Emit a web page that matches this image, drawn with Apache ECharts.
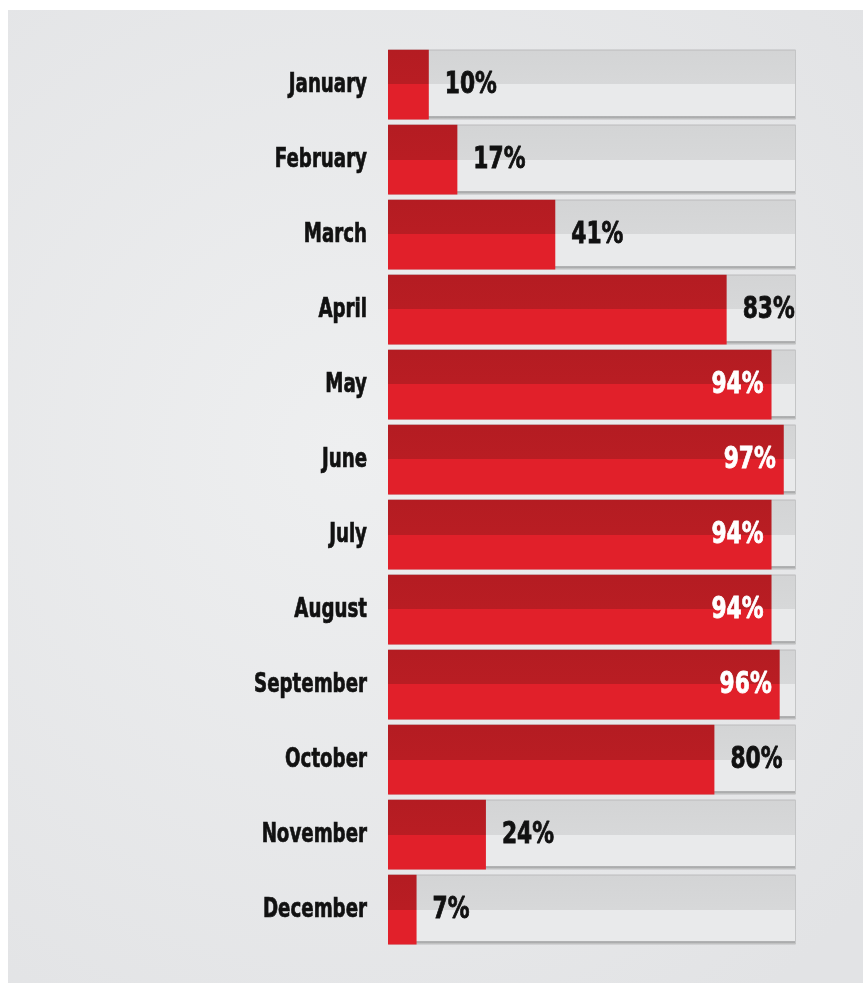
<!DOCTYPE html>
<html>
<head>
<meta charset="utf-8">
<script src="https://cdn.jsdelivr.net/npm/echarts@6/dist/echarts.min.js"></script>
<style>
html,body{margin:0;padding:0;background:#ffffff;}
#chart{width:863px;height:983px;}
</style>
</head>
<body>
<div id="chart"></div>
<script>
const months = ['January','February','March','April','May','June','July','August','September','October','November','December'];
const values = [10,17,41,83,94,97,94,94,96,80,24,7];
const trackMax = 100;

const FONT = "'DejaVu Sans Condensed','Liberation Sans Narrow',sans-serif";
const INSIDE_THRESHOLD = 90;

const chart = echarts.init(document.getElementById('chart'));

const bgRect = {
  type: 'rect',
  z: -10,
  shape: {x: 8, y: 10, width: 855, height: 973},
  style: {
    fill: {
      type: 'radial', x: 0.4, y: 0.45, r: 0.8,
      colorStops: [{offset: 0, color: '#eeeff0'}, {offset: 1, color: '#e2e3e5'}]
    }
  },
  silent: true
};

chart.setOption({
  backgroundColor: '#ffffff',
  animation: false,
  graphic: [bgRect],
  grid: {left: 388, right: 67, top: 47, bottom: 36},
  xAxis: {type: 'value', min: 0, max: trackMax, show: false},
  yAxis: {
    type: 'category',
    data: months,
    inverse: true,
    axisLine: {show: false},
    axisTick: {show: false},
    axisLabel: {show: false}
  },
  series: [
    {
      type: 'bar',
      data: months.map(() => trackMax),
      barCategoryGap: '7%',
      barGap: '-100%',
      silent: true,
      z: 1,
      itemStyle: {
        color: {
          type: 'linear', x: 0, y: 0, x2: 0, y2: 1,
          colorStops: [
            {offset: 0, color: '#d3d4d5'},
            {offset: 0.5, color: '#d7d8d9'},
            {offset: 0.5, color: '#e9eaeb'},
            {offset: 0.95, color: '#e9eaeb'},
            {offset: 0.95, color: '#b3b4b5'},
            {offset: 1, color: '#a3a4a5'}
          ]
        },
        borderColor: '#c4c5c6',
        borderWidth: 1
      }
    },
    {
      type: 'bar',
      data: values,
      barCategoryGap: '7%',
      barGap: '-100%',
      z: 2,
      itemStyle: {
        color: {
          type: 'linear', x: 0, y: 0, x2: 0, y2: 1,
          colorStops: [
            {offset: 0, color: '#b41c22'},
            {offset: 0.5, color: '#b91d23'},
            {offset: 0.5, color: '#e1202a'},
            {offset: 1, color: '#e1202a'}
          ]
        }
      }
    }
  ]
});

// Condensed text labels, positioned through the chart's own scales
const texts = [];
const x0 = chart.convertToPixel({xAxisIndex: 0}, 0);
months.forEach((m, i) => {
  const y = chart.convertToPixel({yAxisIndex: 0}, m);
  texts.push({
    type: 'text', x: x0 - 21, y: y, scaleX: 0.75, z: 10, silent: true,
    style: {
      text: m, fontFamily: FONT, fontWeight: 'bold', fontSize: 27,
      fill: '#111111', stroke: '#111111', lineWidth: 0.7,
      align: 'right', verticalAlign: 'middle'
    }
  });
  const v = values[i];
  const xe = chart.convertToPixel({xAxisIndex: 0}, v);
  const inside = v >= INSIDE_THRESHOLD;
  const col = inside ? '#ffffff' : '#111111';
  texts.push({
    type: 'text', x: inside ? xe - 8 : xe + 16, y: y, scaleX: 0.78, z: 10, silent: true,
    style: {
      text: v + '%', fontFamily: FONT, fontWeight: 'bold', fontSize: 31,
      fill: col, stroke: col, lineWidth: 0.8,
      align: inside ? 'right' : 'left', verticalAlign: 'middle'
    }
  });
});
chart.setOption({graphic: [bgRect].concat(texts)}, {replaceMerge: ['graphic']});
</script>
</body>
</html>
